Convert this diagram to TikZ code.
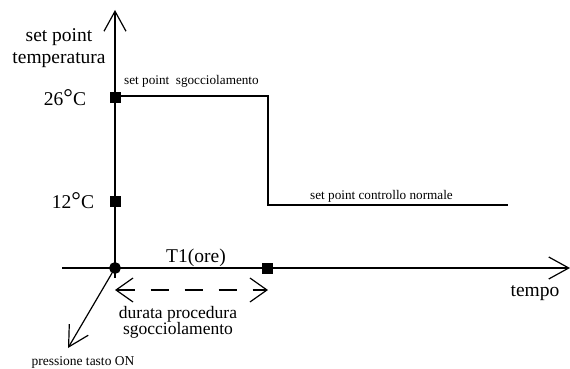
\documentclass[tikz,border=0pt]{standalone}
\usepackage{fontspec}
\setmainfont{Liberation Serif}
\usetikzlibrary{arrows.meta}
\begin{document}
\begin{tikzpicture}[x=1pt,y=-1pt,
  ln/.style={line width=1.2pt},
  vee/.style={-{Straight Barb[length=20pt,width=22pt,line width=1.2pt]}},
  sq/.style={draw,fill=black,minimum size=10pt,inner sep=0pt,line width=0.8pt},
  big/.style={font=\fontsize{19.5}{22}\selectfont,inner sep=0pt},
  small/.style={font=\fontsize{13.2}{15}\selectfont,inner sep=0pt}]
\useasboundingbox (0,0) rectangle (570,369);
\coordinate (ybot) at (115,278);
\coordinate (ytop) at (115,10);
\coordinate (xl) at (62,268);
\coordinate (xr) at (570,268);
\draw[ln,vee] (ybot) -- (ytop);
\draw[ln,vee] (xl) -- (xr);
% step curve
\coordinate (s0) at (115,96);
\coordinate (s1) at (268,96);
\coordinate (s2) at (268,205);
\coordinate (s3) at (508,205);
\draw[ln] (s0) -- (s1) -- (s2) -- (s3);
% markers
\node[sq] (m26) at (115,97) {};
\node[sq] (m12) at (115,201) {};
\node[sq] (mt1) at (267,268) {};
\node[draw,fill=black,circle,minimum size=11pt,inner sep=0pt,line width=0.8pt] (o) at (115,268) {};
% labels
\node[big,align=center] (ylab) at (59,48) {set point\\temperatura};
\node[big] (l26) at (65,98) {26{\fontsize{24}{24}\selectfont\raisebox{-0.5pt}{°}}C};
\node[big] (l12) at (73,201) {12{\fontsize{24}{24}\selectfont\raisebox{-0.5pt}{°}}C};
\node[small,anchor=west] (lsg) at (124,81) {set point\ \ sgocciolamento};
\node[small,anchor=west] (lcn) at (310,196) {set point controllo normale};
\node[big] (t1) at (196,258) {T1(ore)};
\node[big] (tempo) at (535,293) {tempo};
% dashed double arrow
\coordinate (d0) at (115,290);
\coordinate (d1) at (268,290);
\draw[ln,dash pattern=on 18pt off 16pt,{Straight Barb[length=17pt,width=24pt,line width=1.2pt]}-{Straight Barb[length=17pt,width=24pt,line width=1.2pt]}] (d0) -- (d1);
\node[align=center,inner sep=0pt,font=\fontsize{17.5}{16}\selectfont] (dur) at (178,322) {durata procedura\\sgocciolamento};
% diagonal
\coordinate (p1) at (68,348);
\draw[ln,vee] (o) -- (p1);
\node[font=\fontsize{13.5}{15}\selectfont,inner sep=0pt] (press) at (83,362) {pressione tasto ON};
\end{tikzpicture}
\end{document}
